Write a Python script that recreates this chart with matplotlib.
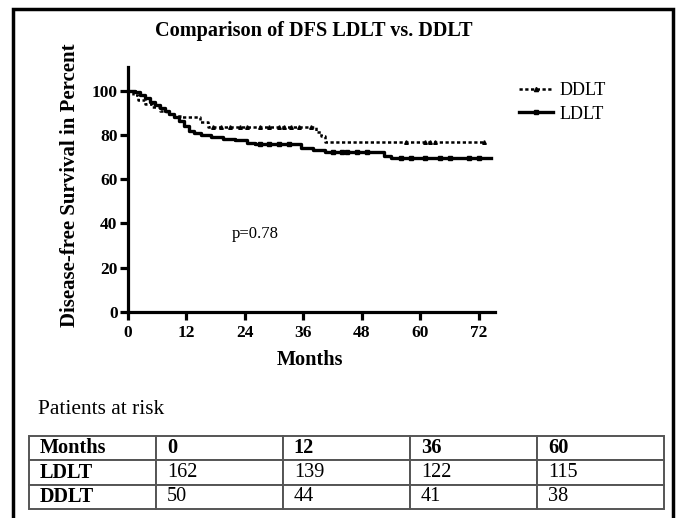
import matplotlib
matplotlib.use("Agg")
import matplotlib.pyplot as plt
from matplotlib.lines import Line2D
from matplotlib.patches import Rectangle

# ---------------- data ----------------
ldlt_t = [0, 1.5, 2.5, 3.5, 4.5, 5.5, 6.5, 7.5, 8.5, 9.5, 10.5, 11.5, 12.5, 13.5,
          15, 17, 19.5, 22, 24.5, 26, 35.5, 38, 40.5, 52.5, 54, 74.5]
ldlt_s = [100, 99.4, 98, 96.5, 95, 93.5, 92, 91, 89.5, 88, 86.5, 84, 82, 80.7,
          79.8, 79, 78.3, 77.5, 76.5, 75.8, 74, 73, 72.4, 70.5, 69.5, 69.5]
ldlt_cens_t = [27, 29, 31, 33, 42, 44, 45, 47, 49, 56, 58, 61, 64, 66, 70, 72]

ddlt_t = [0, 1, 2, 3.5, 5, 6.5, 8, 9.5, 11, 14.8, 16.5, 38.5, 39.5, 40.5, 73]
ddlt_s = [100, 98, 96, 94, 92.5, 91, 89.5, 88.5, 88, 86, 83.5, 81.5, 79.3, 77, 77]
ddlt_cens_t = [17.5, 19, 21, 23, 24.5, 27, 29, 31, 32, 33.5, 35, 37.5, 57, 61, 62, 63, 73]

x_ticks = [0, 12, 24, 36, 48, 60, 72]
y_ticks = [0, 20, 40, 60, 80, 100]

table_header = ["Months", "0", "12", "36", "60"]
table_ldlt = ["LDLT", "162", "139", "122", "115"]
table_ddlt = ["DDLT", "50", "44", "41", "38"]

p_text = "p=0.78"
title = "Comparison of DFS LDLT vs. DDLT"
# --------------------------------------

SERIF = "Liberation Serif"
W, H = 682, 518
fig = plt.figure(figsize=(W / 100, H / 100), dpi=100)


def fx(px):
    return px / W


def fy(py):
    return 1 - py / H


def step_value(ts, ss, t):
    v = ss[0]
    for ti, si in zip(ts, ss):
        if ti <= t:
            v = si
    return v


ax = fig.add_axes([fx(128), fy(312), fx(495) - fx(128), fy(67) - fy(312)])
ax.set_xlim(0, 75.3)
ax.set_ylim(0, 110.7)
for s in ["top", "right"]:
    ax.spines[s].set_visible(False)
for s in ["left", "bottom"]:
    ax.spines[s].set_linewidth(2.3)
ax.set_xticks(x_ticks)
ax.set_yticks(y_ticks)
ax.tick_params(axis="both", direction="out", length=5.5, width=2.3)
ax.tick_params(axis="x", pad=4)
ax.tick_params(axis="y", pad=2)
for lab in ax.get_xticklabels() + ax.get_yticklabels():
    lab.set_fontfamily(SERIF)
    lab.set_fontweight("bold")
    lab.set_fontsize(12.5)

ax.step(ldlt_t, ldlt_s, where="post", color="black", lw=2.4, clip_on=False)
ax.step(ddlt_t, ddlt_s, where="post", color="black", lw=1.8, ls=(0, (1.3, 1.0)), clip_on=False)
ax.plot(ldlt_cens_t, [step_value(ldlt_t, ldlt_s, t) for t in ldlt_cens_t], ls="none",
        marker="s", ms=2.6, color="black", clip_on=False)
ax.plot(ddlt_cens_t, [step_value(ddlt_t, ddlt_s, t) for t in ddlt_cens_t], ls="none",
        marker="^", ms=2.6, color="black", clip_on=False)

ax.text(21.3, 35.2, p_text, fontfamily=SERIF, fontsize=12, ha="left", va="center")

handles = [
    Line2D([0], [0], color="black", lw=1.8, ls=(0, (1.3, 1.0)), marker="^", ms=3),
    Line2D([0], [0], color="black", lw=2.4, marker="s", ms=3),
]
leg = fig.legend(handles, ["DDLT", "LDLT"], loc="upper left",
                 bbox_to_anchor=(fx(512), fy(75)), frameon=False,
                 prop={"family": SERIF, "size": 13}, handlelength=1.85,
                 handletextpad=0.4, labelspacing=0.35, borderaxespad=0)

fig.text(fx(314), fy(31), title, fontfamily=SERIF, fontweight="bold", fontsize=14.6,
         ha="center", va="center")
fig.text(fx(70), fy(185), "Disease-free Survival in Percent", fontfamily=SERIF,
         fontweight="bold", fontsize=15, rotation=90, ha="center", va="center")
fig.text(fx(310), fy(360), "Months", fontfamily=SERIF, fontweight="bold", fontsize=14.6,
         ha="center", va="center")
fig.text(fx(38), fy(410), "Patients at risk", fontfamily=SERIF, fontsize=15.4,
         ha="left", va="center")

# table
tax = fig.add_axes([fx(29), fy(509), fx(664) - fx(29), fy(436) - fy(509)])
tax.axis("off")
tbl = tax.table(cellText=[table_header, table_ldlt, table_ddlt], cellLoc="left",
                bbox=[0, 0, 1, 1])
tbl.auto_set_font_size(False)
for (r, c), cell in tbl.get_celld().items():
    cell.set_edgecolor("#555555")
    cell.set_linewidth(1.4)
    cell.PAD = 0.085
    t = cell.get_text()
    t.set_fontfamily(SERIF)
    t.set_fontsize(14.6)
    if r == 0 or c == 0:
        t.set_fontweight("bold")

# outer frame
fig.patches.append(Rectangle((fx(13), fy(530)), fx(673) - fx(13), fy(9) - fy(530),
                             transform=fig.transFigure, fill=False, lw=2.5,
                             edgecolor="black"))

fig.savefig("out.png", dpi=100)
